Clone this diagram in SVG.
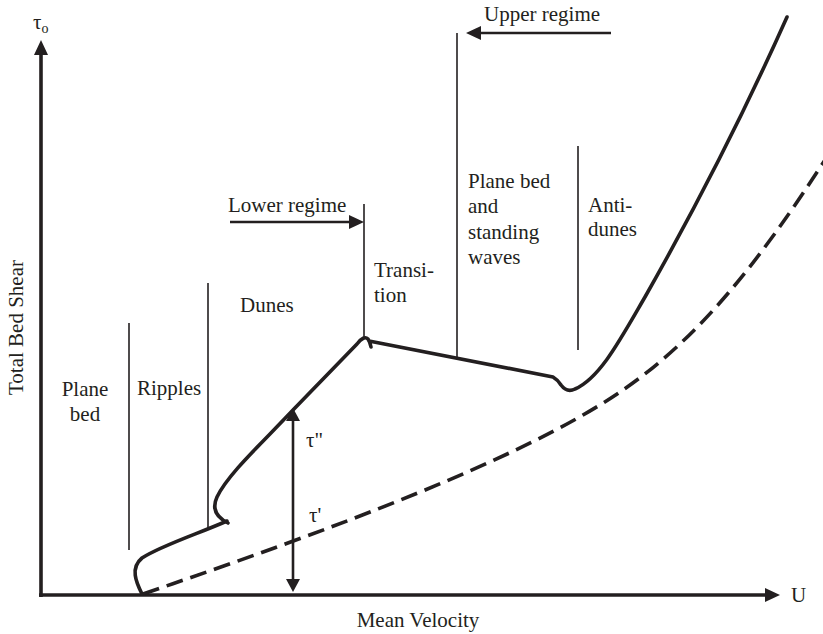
<svg xmlns="http://www.w3.org/2000/svg" width="823" height="634" viewBox="0 0 823 634">
<style>
text{font-family:"Liberation Serif","Times New Roman",serif;font-size:21px;fill:#231f20}
.thin{stroke:#231f20;stroke-width:1.6;fill:none}
.axis{stroke:#231f20;stroke-width:3.6;fill:none}
.arr{stroke:#231f20;stroke-width:2.6;fill:none}
.curve{stroke:#231f20;stroke-width:3.6;fill:none;stroke-linecap:round;stroke-linejoin:round}
.dash{stroke:#231f20;stroke-width:3.6;fill:none;stroke-dasharray:17 8}
</style>
<defs>
<marker id="ah" markerUnits="userSpaceOnUse" markerWidth="16" markerHeight="16" viewBox="0 0 16 16" refX="0" refY="8" orient="auto-start-reverse"><path d="M0,1 L15,8 L0,15 z" fill="#231f20"/></marker>
<marker id="ahs" markerUnits="userSpaceOnUse" markerWidth="14" markerHeight="16" viewBox="0 0 14 16" refX="0" refY="8" orient="auto-start-reverse"><path d="M0,1 L13,8 L0,15 z" fill="#231f20"/></marker>
</defs>
<rect width="823" height="634" fill="#fff"/>
<g id="axes">
<line class="axis" x1="41" y1="597" x2="41" y2="55" marker-end="url(#ah)"/>
<line class="axis" x1="39" y1="595" x2="765" y2="595" marker-end="url(#ah)"/>
<text x="33" y="29">τ<tspan font-size="14" dy="4">o</tspan></text>
<text x="791" y="602">U</text>
<text x="418" y="627" text-anchor="middle" font-size="19">Mean Velocity</text>
<text transform="translate(23,395) rotate(-90)">Total Bed Shear</text>
</g>
<g id="region-lines">
<line class="thin" x1="129" y1="323" x2="129" y2="550"/>
<line class="thin" x1="208" y1="283" x2="208" y2="530"/>
<line class="thin" x1="364" y1="204" x2="364" y2="339"/>
<line class="thin" x1="457" y1="33" x2="457" y2="358"/>
<line class="thin" x1="578" y1="146" x2="578" y2="350"/>
</g>
<g id="labels">
<text x="85" y="396" text-anchor="middle">Plane</text>
<text x="85" y="421" text-anchor="middle">bed</text>
<text x="137" y="395">Ripples</text>
<text x="240" y="312">Dunes</text>
<text x="228" y="212">Lower regime</text>
<text x="374" y="277">Transi-</text>
<text x="374" y="302">tion</text>
<text x="484" y="21">Upper regime</text>
<text x="468" y="188">Plane bed</text>
<text x="468" y="213">and</text>
<text x="468" y="239">standing</text>
<text x="468" y="264">waves</text>
<text x="588" y="212">Anti-</text>
<text x="588" y="236">dunes</text>
<text x="306" y="447" font-size="19">τ"</text>
<text x="309" y="522" font-size="19">τ'</text>
</g>
<g id="curves">
<path class="curve" d="M142,594 C136,582 130,568 142,558 C160,546 200,533 227,521"/>
<path class="curve" d="M228,523 C218,518 211,510 217,497 C228,474 262,443 293,410 L357,344 Q364,335 368,339 Q370,342 371,347 M369,341 L553,377 Q558,380 561,385 Q567,393 575,389 C600,378 620,340 645,297 C700,200 750,100 787,17"/>
<path class="dash" d="M143,594 C330,530 520,460 620,392 C700,338 760,260 825,160"/>
</g>
<g id="connectors">
<line class="arr" x1="230" y1="222" x2="349" y2="222" marker-end="url(#ah)"/>
<line class="arr" x1="611" y1="33" x2="481" y2="33" marker-end="url(#ah)"/>
<line class="arr" x1="293" y1="421" x2="293" y2="579" stroke-width="2.2" marker-start="url(#ahs)" marker-end="url(#ahs)"/>
</g>
</svg>
